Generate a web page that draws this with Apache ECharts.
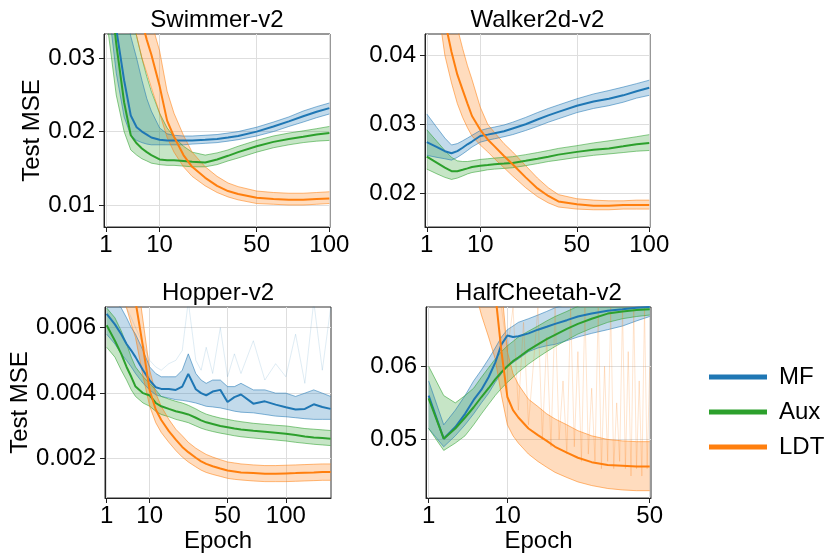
<!DOCTYPE html>
<html><head><meta charset="utf-8">
<script src="https://cdn.jsdelivr.net/npm/echarts@6/dist/echarts.min.js"></script>
<style>html,body{margin:0;padding:0;background:#fff}#c{width:827px;height:554px}</style>
</head><body><div id="c"></div>
<script>
const methods = ['MF', 'Aux', 'LDT'];
const colors = ['#1f77b4', '#2ca02c', '#ff7f0e'];
const titles = ['Swimmer-v2', 'Walker2d-v2', 'Hopper-v2', 'HalfCheetah-v2'];
const xTicks = [[1, 10, 50, 100], [1, 10, 50, 100], [1, 10, 50, 100], [1, 10, 50]];
const yTicks = [[0.01, 0.02, 0.03], [0.02, 0.03, 0.04], [0.002, 0.004, 0.006], [0.05, 0.06]];
const yDecimals = [2, 2, 3, 2];
const yRange = [[0.0070, 0.0333], [0.0151, 0.0431], [0.0008, 0.00663], [0.0420, 0.0681]];
const xRange = [[0.85, 100.5], [0.86, 100.6], [0.84, 150.5], [0.86, 50.5]];

// Swimmer-v2
const sw_ep = [1,2,3,4,5,6,7,8,10,12,14,17,20,25,30,35,40,50,60,70,80,90,100];
const sw_mf = [0.048,0.034,0.027,0.0222,0.0206,0.0200,0.0196,0.0192,0.0189,0.0188,0.0188,0.0188,0.0188,0.0189,0.0190,0.0192,0.0194,0.0200,0.0207,0.0214,0.0221,0.0227,0.0232];
const sw_mf_lo = [0.040,0.028,0.022,0.0195,0.0188,0.0185,0.0183,0.0182,0.0182,0.0182,0.0182,0.0182,0.0183,0.0184,0.0185,0.0187,0.0189,0.0194,0.0200,0.0207,0.0213,0.0219,0.0224];
const sw_mf_hi = [0.060,0.045,0.038,0.033,0.030,0.027,0.0245,0.0228,0.0205,0.0197,0.0195,0.0194,0.0194,0.0195,0.0196,0.0198,0.0200,0.0206,0.0213,0.0220,0.0228,0.0234,0.0239];
const sw_aux = [0.045,0.032,0.024,0.0195,0.0184,0.0177,0.0172,0.0168,0.0162,0.0161,0.0161,0.0160,0.0159,0.0158,0.0162,0.0167,0.0172,0.0180,0.0186,0.0190,0.0193,0.0196,0.0198];
const sw_aux_lo = [0.036,0.025,0.020,0.0175,0.0168,0.0163,0.0160,0.0157,0.0155,0.0154,0.0154,0.0153,0.0152,0.0152,0.0155,0.0160,0.0164,0.0172,0.0178,0.0182,0.0185,0.0187,0.0188];
const sw_aux_hi = [0.060,0.045,0.040,0.036,0.033,0.030,0.0275,0.0255,0.0225,0.0205,0.0193,0.0180,0.0172,0.0168,0.0171,0.0175,0.0180,0.0188,0.0194,0.0198,0.0201,0.0204,0.0207];
const sw_ldt = [0.090,0.070,0.055,0.045,0.039,0.035,0.0325,0.0305,0.0262,0.0215,0.0193,0.0168,0.0152,0.0137,0.0126,0.0119,0.0115,0.0110,0.0108,0.0107,0.0107,0.0108,0.0109];
const sw_ldt_lo = [0.070,0.055,0.045,0.038,0.033,0.030,0.028,0.026,0.0225,0.0192,0.0172,0.0152,0.0139,0.0126,0.0117,0.0111,0.0107,0.0102,0.0101,0.0100,0.0100,0.0101,0.0102];
const sw_ldt_hi = [0.110,0.090,0.070,0.055,0.046,0.041,0.038,0.035,0.031,0.0255,0.0225,0.0195,0.0172,0.0152,0.0139,0.0130,0.0125,0.0119,0.0117,0.0116,0.0116,0.0117,0.0118];

// Walker2d-v2
const wk_ep = [1,2,3,4,5,6,7,8,10,12,14,17,20,25,30,35,40,50,60,70,80,90,100];
const wk_mf = [0.0274,0.0267,0.0261,0.0258,0.0261,0.0266,0.0271,0.0275,0.0283,0.0285,0.0287,0.0290,0.0294,0.0300,0.0307,0.0313,0.0318,0.0327,0.0333,0.0337,0.0342,0.0348,0.0353];
const wk_mf_lo = [0.0255,0.0252,0.0250,0.0248,0.0252,0.0257,0.0262,0.0267,0.0274,0.0277,0.0279,0.0282,0.0285,0.0291,0.0297,0.0303,0.0308,0.0317,0.0323,0.0327,0.0332,0.0338,0.0342];
const wk_mf_hi = [0.0315,0.0295,0.0280,0.0270,0.0272,0.0276,0.0280,0.0284,0.0291,0.0294,0.0296,0.0299,0.0303,0.0310,0.0317,0.0323,0.0328,0.0337,0.0344,0.0349,0.0354,0.0359,0.0364];
const wk_aux = [0.0253,0.0244,0.0237,0.0232,0.0232,0.0234,0.0236,0.0238,0.0240,0.0241,0.0242,0.0243,0.0244,0.0247,0.0250,0.0253,0.0256,0.0260,0.0263,0.0265,0.0268,0.0271,0.0273];
const wk_aux_lo = [0.0235,0.0228,0.0223,0.0220,0.0222,0.0225,0.0228,0.0230,0.0232,0.0234,0.0235,0.0236,0.0237,0.0240,0.0243,0.0246,0.0248,0.0252,0.0255,0.0257,0.0259,0.0261,0.0262];
const wk_aux_hi = [0.0292,0.0275,0.0262,0.0252,0.0247,0.0246,0.0246,0.0247,0.0249,0.0250,0.0251,0.0252,0.0253,0.0256,0.0259,0.0262,0.0265,0.0269,0.0273,0.0276,0.0279,0.0282,0.0285];
const wk_ldt = [0.070,0.055,0.045,0.0405,0.0372,0.0350,0.0330,0.0312,0.0292,0.0278,0.0268,0.0254,0.0242,0.0223,0.0207,0.0196,0.0188,0.0184,0.0182,0.0182,0.0183,0.0183,0.0183];
const wk_ldt_lo = [0.060,0.048,0.040,0.036,0.033,0.031,0.0295,0.0283,0.0270,0.0260,0.0250,0.0237,0.0225,0.0208,0.0195,0.0186,0.0180,0.0177,0.0176,0.0176,0.0177,0.0177,0.0177];
const wk_ldt_hi = [0.080,0.065,0.055,0.048,0.044,0.041,0.0385,0.0365,0.0325,0.0300,0.0288,0.0272,0.0260,0.0240,0.0222,0.0208,0.0198,0.0192,0.0190,0.0189,0.0189,0.0190,0.0190];

// Hopper-v2
const hp_ep = [1,2,3,4,5,6,8,10,12,14,17,20,23,26,30,33,36,40,45,50,55,60,70,80,90,100,110,120,130,140,150];
const hp_mf = [0.00642,0.0061,0.0058,0.0055,0.0053,0.0051,0.0047,0.00439,0.00418,0.00413,0.00413,0.00410,0.00420,0.00459,0.00412,0.00400,0.00393,0.00405,0.00410,0.00373,0.00388,0.00396,0.00368,0.00375,0.00365,0.00357,0.00350,0.00352,0.00366,0.00358,0.00352];
const hp_mf_lo = [0.0058,0.0055,0.0052,0.0050,0.0048,0.0046,0.0043,0.0041,0.00395,0.0039,0.00385,0.0038,0.00378,0.00375,0.0037,0.00365,0.0036,0.00358,0.00355,0.0035,0.00345,0.00342,0.0034,0.00335,0.0033,0.00328,0.00325,0.00322,0.0032,0.0032,0.0032];
const hp_mf_hi = [0.0070,0.0068,0.0066,0.0063,0.0060,0.0058,0.0053,0.0048,0.0046,0.0045,0.0045,0.0045,0.0047,0.0052,0.0046,0.0044,0.0043,0.0044,0.0044,0.0042,0.0042,0.0043,0.0041,0.0041,0.0040,0.0040,0.0039,0.0040,0.0041,0.0040,0.0039];
const hp_mf_spk = [0.0072,0.0070,0.0068,0.0066,0.0063,0.0060,0.0055,0.0050,0.0048,0.0047,0.0049,0.0050,0.0053,0.0068,0.0050,0.0047,0.0054,0.0046,0.0060,0.0045,0.0052,0.0046,0.0056,0.0044,0.0049,0.0045,0.0058,0.0043,0.0068,0.0047,0.0066];
const hp_aux = [0.00607,0.0056,0.0052,0.0048,0.0045,0.0042,0.0040,0.00393,0.0037,0.0036,0.00352,0.00345,0.0034,0.00335,0.00325,0.00317,0.00311,0.00306,0.0030,0.00296,0.00292,0.00289,0.00285,0.00282,0.00279,0.00276,0.00272,0.00268,0.00265,0.00263,0.00261];
const hp_aux_lo = [0.0054,0.0051,0.0047,0.0044,0.0041,0.0039,0.0037,0.0036,0.00345,0.00335,0.00328,0.0032,0.00315,0.0031,0.0030,0.00293,0.00288,0.00283,0.00278,0.00274,0.0027,0.00267,0.00263,0.0026,0.00257,0.00254,0.0025,0.00247,0.00244,0.00242,0.0024];
const hp_aux_hi = [0.0066,0.0063,0.0059,0.0055,0.0051,0.0048,0.0045,0.0043,0.0041,0.0039,0.00382,0.00375,0.0037,0.00363,0.00352,0.00343,0.00336,0.0033,0.00324,0.0032,0.00316,0.00313,0.00308,0.00305,0.00302,0.0030,0.00296,0.00292,0.0029,0.00288,0.00286];
const hp_ldt = [0.011,0.0095,0.0085,0.0078,0.0072,0.0068,0.0054,0.00408,0.0035,0.00318,0.00284,0.00258,0.00236,0.0022,0.00203,0.00192,0.00184,0.00177,0.0017,0.00164,0.00161,0.00158,0.00156,0.00154,0.00154,0.00155,0.00156,0.00157,0.00158,0.00159,0.00159];
const hp_ldt_lo = [0.009,0.008,0.0072,0.0066,0.0061,0.0057,0.0045,0.0036,0.0031,0.0028,0.0025,0.00225,0.00205,0.0019,0.00175,0.00165,0.00158,0.00152,0.00146,0.0014,0.00137,0.00135,0.00132,0.0013,0.0013,0.0013,0.00131,0.00132,0.00133,0.00134,0.00134];
const hp_ldt_hi = [0.013,0.011,0.0098,0.009,0.0083,0.0079,0.0062,0.0047,0.0040,0.0036,0.0032,0.0029,0.0027,0.0025,0.00232,0.00222,0.00213,0.00205,0.00197,0.0019,0.00187,0.00184,0.00181,0.00179,0.00179,0.0018,0.00181,0.00182,0.00183,0.00184,0.00184];

// HalfCheetah-v2
const hc_ep = [1,2,3,4,5,6,7,8,9,10,11,12,14,16,18,20,23,26,30,35,40,45,50];
const hc_mf = [0.0560,0.0501,0.0517,0.0535,0.0554,0.0568,0.0585,0.0605,0.0630,0.0642,0.0640,0.0641,0.0645,0.0650,0.0654,0.0658,0.0663,0.0668,0.0672,0.0676,0.0678,0.0680,0.0681];
const hc_mf_lo = [0.0515,0.0490,0.0505,0.0520,0.0535,0.0550,0.0563,0.0578,0.0590,0.0600,0.0605,0.0610,0.0620,0.0625,0.0628,0.0630,0.0635,0.0640,0.0645,0.0650,0.0655,0.0662,0.0668];
const hc_mf_hi = [0.0580,0.0520,0.0540,0.0560,0.0580,0.0595,0.0610,0.0625,0.0640,0.0650,0.0655,0.0660,0.0665,0.0670,0.0675,0.0680,0.0685,0.0690,0.0690,0.0690,0.0690,0.0690,0.0690];
const hc_aux = [0.0556,0.0501,0.0515,0.0530,0.0544,0.0558,0.0570,0.0582,0.0592,0.0600,0.0607,0.0612,0.0622,0.0630,0.0637,0.0643,0.0651,0.0658,0.0665,0.0672,0.0675,0.0677,0.0678];
const hc_aux_lo = [0.0515,0.0485,0.0495,0.0505,0.0520,0.0535,0.0548,0.0560,0.0570,0.0578,0.0585,0.0592,0.0603,0.0612,0.0620,0.0627,0.0636,0.0644,0.0652,0.0660,0.0665,0.0668,0.0670];
const hc_aux_hi = [0.0600,0.0560,0.0550,0.0560,0.0570,0.0585,0.0598,0.0610,0.0620,0.0628,0.0634,0.0640,0.0648,0.0655,0.0662,0.0668,0.0675,0.0682,0.0688,0.0692,0.0695,0.0695,0.0695];
const hc_ldt = [0.120,0.110,0.100,0.092,0.085,0.079,0.074,0.070,0.062,0.0558,0.0540,0.0530,0.0515,0.0506,0.0498,0.0490,0.0482,0.0475,0.0469,0.0465,0.0464,0.0463,0.0463];
const hc_ldt_lo = [0.100,0.090,0.082,0.076,0.071,0.067,0.064,0.061,0.056,0.0520,0.0505,0.0495,0.0480,0.0470,0.0462,0.0455,0.0448,0.0442,0.0437,0.0433,0.0431,0.0430,0.0430];
const hc_ldt_hi = [0.140,0.130,0.120,0.110,0.100,0.092,0.086,0.080,0.071,0.0620,0.0590,0.0575,0.0555,0.0545,0.0535,0.0528,0.0520,0.0512,0.0505,0.0500,0.0498,0.0497,0.0497];
const hc_ldt_spk_ep = [8,9,10,11,12,13,14,15,16,17,18,19,20,21,22,23,24,25,26,27,28,29,30,31,32,33,34,35,36,37,38,39,40,41,42,43,44,45,46,47,48,49,50];
const hc_ldt_spk = [0.075,0.068,0.062,0.068,0.054,0.066,0.052,0.060,0.068,0.050,0.064,0.049,0.068,0.050,0.058,0.048,0.068,0.049,0.062,0.047,0.068,0.048,0.057,0.047,0.068,0.046,0.060,0.047,0.068,0.046,0.055,0.047,0.068,0.046,0.062,0.045,0.068,0.046,0.058,0.045,0.068,0.046,0.060];

const FONT = '"Liberation Sans", Arial, Helvetica, sans-serif';
const FS = 24;
const grids = [
  {left: 104, top: 34, width: 226, height: 193},
  {left: 425, top: 34, width: 225, height: 193},
  {left: 105, top: 307, width: 226, height: 191},
  {left: 426, top: 307, width: 225, height: 191}
];

const panels = [
  {ep: sw_ep, runs: [[sw_mf, sw_mf_lo, sw_mf_hi], [sw_aux, sw_aux_lo, sw_aux_hi], [sw_ldt, sw_ldt_lo, sw_ldt_hi]], spikes: []},
  {ep: wk_ep, runs: [[wk_mf, wk_mf_lo, wk_mf_hi], [wk_aux, wk_aux_lo, wk_aux_hi], [wk_ldt, wk_ldt_lo, wk_ldt_hi]], spikes: []},
  {ep: hp_ep, runs: [[hp_mf, hp_mf_lo, hp_mf_hi], [hp_aux, hp_aux_lo, hp_aux_hi], [hp_ldt, hp_ldt_lo, hp_ldt_hi]], spikes: [{m: 0, ep: hp_ep, v: hp_mf_spk, a: 0.14}]},
  {ep: hc_ep, runs: [[hc_mf, hc_mf_lo, hc_mf_hi], [hc_aux, hc_aux_lo, hc_aux_hi], [hc_ldt, hc_ldt_lo, hc_ldt_hi]], spikes: [{m: 2, ep: hc_ldt_spk_ep, v: hc_ldt_spk, a: 0.2}]}
];

const sq = Math.sqrt;
const toPts = (ep, v) => ep.map((e, i) => [sq(e), v[i]]);

function bandSeries(gi, ep, lo, hi, color, alpha, z) {
  return {
    type: 'custom', xAxisIndex: gi, yAxisIndex: gi, silent: true, clip: true, z: z,
    data: ep.map((e, i) => [sq(e), lo[i], hi[i]]),
    encode: {x: 0, y: [1, 2]},
    renderItem: (params, api) => {
      if (params.dataIndex !== 0) return null;
      const top = ep.map((e, i) => api.coord([sq(e), hi[i]]));
      const bot = ep.map((e, i) => api.coord([sq(e), lo[i]])).reverse();
      return {type: 'polygon', shape: {points: top.concat(bot)}, style: {fill: color, opacity: alpha}};
    }
  };
}

const xAxes = [], yAxes = [], series = [], graphics = [];
panels.forEach((p, gi) => {
  const bottomRow = gi >= 2, leftCol = gi % 2 === 0;
  xAxes.push({
    type: 'value', gridIndex: gi, min: sq(xRange[gi][0]), max: sq(xRange[gi][1]),
    name: bottomRow ? 'Epoch' : '', nameLocation: 'middle', nameGap: 30,
    nameTextStyle: {fontFamily: FONT, fontSize: FS, color: '#000'},
    axisLine: {show: true, onZero: false, lineStyle: {color: '#222', width: 1}},
    axisTick: {show: true, inside: false, length: 5, customValues: xTicks[gi].map(sq), lineStyle: {color: '#222'}},
    axisLabel: {customValues: xTicks[gi].map(sq), margin: 6, fontFamily: FONT, fontSize: FS, color: '#000',
      formatter: v => String(Math.round(v * v))},
    splitLine: {show: true, lineStyle: {color: '#dedede', width: 1}}
  });
  yAxes.push({
    type: 'value', gridIndex: gi, min: yRange[gi][0], max: yRange[gi][1],
    name: leftCol ? 'Test MSE' : '', nameLocation: 'middle', nameGap: 60, nameRotate: 90,
    nameTextStyle: {fontFamily: FONT, fontSize: FS, color: '#000'},
    axisLine: {show: true, lineStyle: {color: '#222', width: 1}},
    axisTick: {show: true, inside: false, length: 5, customValues: yTicks[gi], lineStyle: {color: '#222'}},
    axisLabel: {customValues: yTicks[gi], margin: 9, fontFamily: FONT, fontSize: FS, color: '#000',
      formatter: v => v.toFixed(yDecimals[gi])},
    splitLine: {show: true, lineStyle: {color: '#dedede', width: 1}}
  });
  graphics.push({
    type: 'text', x: grids[gi].left + grids[gi].width / 2, y: grids[gi].top - 26,
    style: {text: titles[gi], align: 'center', verticalAlign: 'top', font: FS + 'px ' + FONT, fill: '#000'}
  });
  p.runs.forEach((r, mi) => {
    const [mean, lo, hi] = r;
    const c = colors[mi];
    series.push(bandSeries(gi, p.ep, lo, hi, c, 0.27, 1 + mi * 0.1));
    [lo, hi].forEach(arr => series.push({type: 'line', xAxisIndex: gi, yAxisIndex: gi, data: toPts(p.ep, arr),
      symbol: 'none', lineStyle: {color: c, width: 1, opacity: 0.55}, silent: true, z: 2 + mi * 0.1}));
  });
  p.spikes.forEach(s => series.push({type: 'line', xAxisIndex: gi, yAxisIndex: gi, data: toPts(s.ep, s.v),
    symbol: 'none', lineStyle: {color: colors[s.m], width: 1, opacity: s.a}, silent: true, z: 2}));
  p.runs.forEach((r, mi) => {
    series.push({type: 'line', name: methods[mi], xAxisIndex: gi, yAxisIndex: gi, data: toPts(p.ep, r[0]),
      symbol: 'none', lineStyle: {color: colors[mi], width: 2}, itemStyle: {color: colors[mi]}, z: 3 + mi * 0.1});
  });
});

const chart = echarts.init(document.getElementById('c'), null, {renderer: 'canvas'});
chart.setOption({
  animation: false,
  backgroundColor: '#fff',
  grid: grids.map(g => Object.assign({show: true, borderColor: '#333', borderWidth: 1, backgroundColor: 'transparent'}, g)),
  xAxis: xAxes,
  yAxis: yAxes,
  series: series,
  graphic: graphics,
  legend: {
    data: methods, orient: 'vertical', left: 704, top: 360, itemWidth: 58, itemHeight: 5, itemGap: 11,
    icon: 'rect', selectedMode: false,
    textStyle: {fontFamily: FONT, fontSize: FS, color: '#000', padding: [0, 0, 0, 7]}
  }
});
</script>
</body></html>
